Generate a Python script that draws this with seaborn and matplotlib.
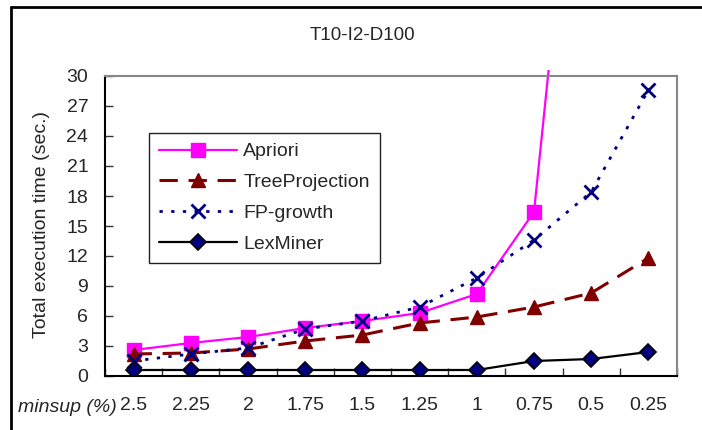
import numpy as np
import pandas as pd
import matplotlib
matplotlib.use("Agg")
import matplotlib.pyplot as plt
import seaborn as sns
from matplotlib.lines import Line2D
from matplotlib.patches import Rectangle

categories = ["2.5", "2.25", "2", "1.75", "1.5", "1.25", "1", "0.75", "0.5", "0.25"]
apriori = [2.6, 3.3, 3.9, 4.8, 5.5, 6.3, 8.2, 16.4, 72.0, np.nan]
treeprojection = [2.2, 2.3, 2.7, 3.5, 4.1, 5.3, 5.9, 6.9, 8.3, 11.8]
fpgrowth = [1.5, 2.2, 2.8, 4.7, 5.5, 6.9, 9.8, 13.6, 18.4, 28.6]
lexminer = [0.6, 0.6, 0.6, 0.6, 0.6, 0.6, 0.6, 1.5, 1.7, 2.4]
yticks = [0, 3, 6, 9, 12, 15, 18, 21, 24, 27, 30]

sns.set_style("white")
plt.rcParams["font.family"] = ["Liberation Sans", "DejaVu Sans"]

fig = plt.figure(figsize=(7.02, 4.30), dpi=100)
W, H = 702, 430
ax = fig.add_axes([105 / W, 1 - 376 / H, (677 - 105) / W, 300 / H])

pos = np.arange(len(categories))
df = pd.DataFrame({"pos": pos, "Apriori": apriori, "TreeProjection": treeprojection,
                   "FP-growth": fpgrowth, "LexMiner": lexminer})

styles = {
    "Apriori": dict(color="#FF00FF", marker="s", markersize=10, lw=1.6, ls="-",
                    mfc="#FF00FF", mec="#FF00FF", mew=1.0),
    "TreeProjection": dict(color="#800000", marker="^", markersize=10, lw=2.2, ls=(0, (6, 3.5)),
                           mfc="#800000", mec="#800000", mew=1.0),
    "FP-growth": dict(color="#000080", marker="x", markersize=10, lw=2.0, ls=(0, (1.2, 3.0)),
                      mfc="#000080", mec="#000080", mew=2.0),
    "LexMiner": dict(color="black", marker="D", markersize=8, lw=1.6, ls="-",
                     mfc="#000080", mec="black", mew=1.2),
}

handles = []
for name in ["Apriori", "TreeProjection", "FP-growth", "LexMiner"]:
    st = dict(styles[name])
    color = st.pop("color")
    ls = st.pop("ls")
    lw = st.pop("lw")
    n_before = len(ax.lines)
    sns.lineplot(data=df, x="pos", y=name, ax=ax, color=color, linestyle=ls,
                 linewidth=lw, **st)
    line = ax.lines[n_before]
    if name == "Apriori":
        line.set_clip_path(Rectangle((0, 0), 1, 1.02, transform=ax.transAxes))
    handles.append(Line2D([], [], color=color, linestyle=ls, linewidth=lw, **st))

ax.set_xlim(-0.5, len(categories) - 0.5)
ax.set_ylim(0, 30)
ax.set_yticks(yticks)
ax.set_xticks(pos)
ax.set_xticklabels(categories)
ax.set_xticks(np.arange(-0.5, len(categories), 1.0), minor=True)
ax.tick_params(axis="x", which="major", length=0, pad=15, labelsize=14)
ax.tick_params(axis="x", which="minor", direction="in", length=6, width=1, color="#333333", bottom=True)
ax.tick_params(axis="y", which="major", direction="in", length=6, width=1, color="#333333",
               pad=12, labelsize=14, left=True)
ax.set_xlabel("")
ax.set_ylabel("")

for s in ["left", "bottom"]:
    ax.spines[s].set_color("black")
    ax.spines[s].set_linewidth(1.5)
for s in ["top", "right"]:
    ax.spines[s].set_color("#888888")
    ax.spines[s].set_linewidth(1.5)

leg = ax.legend(handles, ["Apriori", "TreeProjection", "FP-growth", "LexMiner"],
                loc="upper left", bbox_to_anchor=((149 - 105) / 572, (376 - 133) / 300),
                fontsize=14, handlelength=4.0, handletextpad=0.35, labelspacing=0.68,
                borderpad=0.5, borderaxespad=0, fancybox=False, framealpha=1,
                edgecolor="#222222")
leg.get_frame().set_linewidth(1.0)

fig.text(362 / W, 1 - 35 / H, "T10-I2-D100", ha="center", va="center", fontsize=13.5)
fig.text(42 / W, 1 - 224 / H, "Total execution time (sec.)", rotation=90,
         ha="center", va="center", fontsize=14)
fig.text(117 / W, 1 - 408 / H, "minsup (%)", style="italic", ha="right", va="center",
         fontsize=14)

fig.add_artist(Line2D([11 / W, 11 / W], [0, 1 - 7 / H], transform=fig.transFigure,
                      color="black", lw=2))
fig.add_artist(Line2D([11 / W, 1], [1 - 7 / H, 1 - 7 / H], transform=fig.transFigure,
                      color="black", lw=2))

fig.savefig("out.png", dpi=100)
